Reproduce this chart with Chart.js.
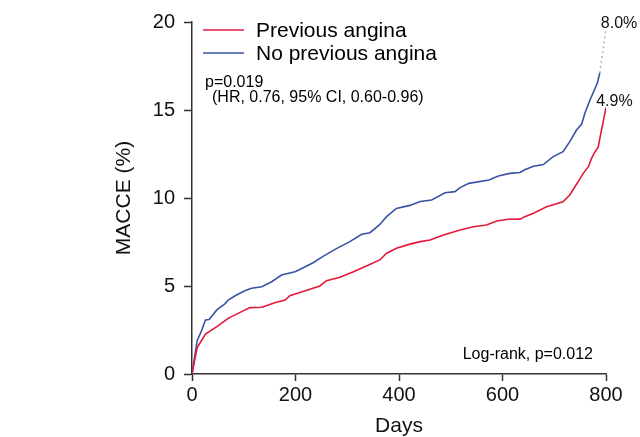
<!DOCTYPE html>
<html><head><meta charset="utf-8">
<script src="https://cdn.jsdelivr.net/npm/chart.js@4.4.1/dist/chart.umd.min.js"></script>
<style>html,body{margin:0;padding:0;background:#fff;}canvas{display:block;}</style>
</head><body>
<canvas id="c" width="640" height="437"></canvas>
<script>
// ---- data ----
const seriesNames = ['Previous angina', 'No previous angina'];
const prevDays = [0,10,26,48,70,93,112,135,160,180,189,210,247,260,286,312,337,363,376,395,421,441,460,486,518,544,569,589,611,634,643,660,685,717,730,740,750,756,766,772,779,785,790,795,800];
const prevPct  = [0,1.5,2.27,2.69,3.16,3.5,3.77,3.79,4.05,4.2,4.45,4.65,5.0,5.3,5.5,5.81,6.14,6.48,6.86,7.14,7.38,7.52,7.61,7.9,8.18,8.37,8.47,8.69,8.79,8.8,8.94,9.13,9.5,9.79,10.17,10.64,11.1,11.4,11.78,12.25,12.63,12.9,13.67,14.4,15.15];
const noPrevDays = [0,10,19,26,33,48,64,70,86,102,115,135,154,173,199,209,234,254,280,305,328,344,363,376,395,421,441,463,489,508,518,535,574,592,614,634,643,660,679,698,717,730,743,753,759,769,776,783,788];
const noPrevPct  = [0,1.89,2.5,3.07,3.1,3.64,4.0,4.2,4.49,4.73,4.87,4.96,5.24,5.62,5.81,5.95,6.32,6.7,7.14,7.52,7.94,8.03,8.5,8.94,9.41,9.58,9.8,9.89,10.3,10.36,10.59,10.83,11.02,11.25,11.4,11.45,11.6,11.8,11.9,12.35,12.63,13.2,13.86,14.2,14.8,15.57,16.04,16.5,17.1];
const extDays = [788, 800];
const extPct  = [17.1, 19.6];
const xTickValues = [0, 200, 400, 600, 800];
const yTickValues = [0, 5, 10, 15, 20];
const endLabels = ['8.0%', '4.9%'];
const pText = 'p=0.019';
const hrText = '(HR, 0.76, 95% CI, 0.60-0.96)';
const logRankText = 'Log-rank, p=0.012';
const xTitle = 'Days';
const yTitle = 'MACCE (%)';

const RED = '#e4183a', BLUE = '#3953a4';
const FONT = '"Liberation Sans", Arial, Helvetica, sans-serif';
const pts = (xs, ys) => xs.map((v, i) => ({x: v, y: ys[i]}));

const annot = {
  id: 'annot',
  afterDatasetsDraw(chart) {
    const {ctx, chartArea: a, scales: {x, y}} = chart;
    ctx.save();
    ctx.textBaseline = 'middle';
    ctx.textAlign = 'left';
    // legend
    const items = [[seriesNames[0], RED, 30], [seriesNames[1], BLUE, 53]];
    ctx.font = '21px ' + FONT;
    items.forEach(([t, c, yy]) => {
      ctx.strokeStyle = c; ctx.lineWidth = 1.5;
      ctx.beginPath(); ctx.moveTo(a.left + 11, yy); ctx.lineTo(a.left + 52, yy); ctx.stroke();
      ctx.fillStyle = '#000'; ctx.fillText(t, a.left + 64, yy + 1);
    });
    ctx.font = '16px ' + FONT;
    ctx.fillStyle = '#000';
    ctx.fillText(pText, a.left + 13, 83);
    ctx.fillText(hrText, a.left + 20, 98);
    ctx.textAlign = 'right';
    ctx.fillText(logRankText, a.right - 13, 355);
    ctx.textAlign = 'left';
    ctx.fillStyle = '#111';
    ctx.fillText(endLabels[0], x.getPixelForValue(790), y.getPixelForValue(19.9));
    ctx.fillText(endLabels[1], x.getPixelForValue(781), y.getPixelForValue(15.5));
    ctx.restore();
  }
};

new Chart(document.getElementById('c'), {
  type: 'line',
  data: {
    datasets: [
      {label: seriesNames[0], data: pts(prevDays, prevPct), borderColor: RED, borderWidth: 1.6, pointRadius: 0, tension: 0, fill: false},
      {label: seriesNames[1], data: pts(noPrevDays, noPrevPct), borderColor: BLUE, borderWidth: 1.6, pointRadius: 0, tension: 0, fill: false},
      {label: 'ext', data: pts(extDays, extPct), borderColor: '#b5b5b5', borderWidth: 1.5, borderDash: [2, 3], pointRadius: 0, fill: false, clip: false}
    ]
  },
  options: {
    responsive: false,
    animation: false,
    devicePixelRatio: 1,
    layout: {padding: {left: 0, top: 22, right: 34, bottom: 0}},
    plugins: {legend: {display: false}, tooltip: {enabled: false}},
    scales: {
      x: {
        type: 'linear', min: 0, max: 800,
        afterBuildTicks: s => { s.ticks = xTickValues.map(v => ({value: v})); },
        afterFit: s => { s.height = 63; },
        ticks: {font: {family: FONT, size: 20}, color: '#111', padding: 2, maxRotation: 0},
        grid: {drawOnChartArea: false, drawTicks: true, tickLength: 7, tickColor: '#333', tickWidth: 1.5},
        border: {display: true, color: '#333', width: 1.5},
        title: {display: true, text: xTitle, font: {family: FONT, size: 21, lineHeight: 1}, color: '#111', padding: {top: 0, bottom: 0}}
      },
      y: {
        type: 'linear', min: 0, max: 20,
        afterBuildTicks: s => { s.ticks = yTickValues.map(v => ({value: v})); },
        afterFit: s => { s.width = 192; },
        ticks: {font: {family: FONT, size: 20}, color: '#111', padding: 9},
        grid: {drawOnChartArea: false, drawTicks: true, tickLength: 8, tickColor: '#333', tickWidth: 1.5},
        border: {display: true, color: '#333', width: 1.5},
        title: {display: true, text: yTitle, font: {family: FONT, size: 21, lineHeight: 1}, color: '#111', padding: {top: 114, bottom: 0}}
      }
    }
  },
  plugins: [annot]
});
</script>
</body></html>
